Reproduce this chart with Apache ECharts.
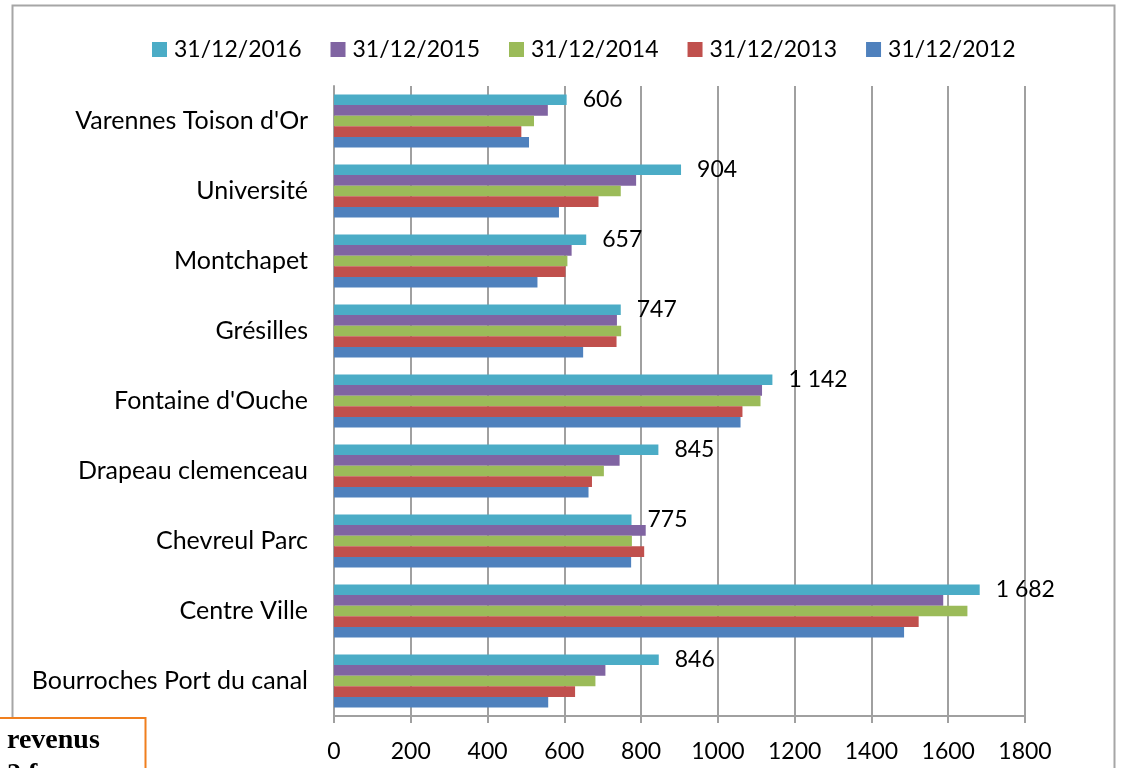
<!DOCTYPE html>
<html>
<head>
<meta charset="utf-8">
<script src="https://cdn.jsdelivr.net/npm/echarts@6/dist/echarts.min.js"></script>
<style>
  html, body { margin: 0; padding: 0; background: #fff; }
  #chart { width: 1121px; height: 768px; }
</style>
</head>
<body>
<div id="chart"></div>
<script>
// quartiers, du bas vers le haut
const quartiers = ['Bourroches Port du canal', 'Centre Ville', 'Chevreul Parc', 'Drapeau clemenceau',
  "Fontaine d'Ouche", 'Grésilles', 'Montchapet', 'Université', "Varennes Toison d'Or"];

const dates = ['31/12/2016', '31/12/2015', '31/12/2014', '31/12/2013', '31/12/2012'];

const v2016 = [846, 1682, 775, 845, 1142, 747, 657, 904, 606];
const v2015 = [707, 1587, 812, 744, 1115, 737, 619, 787, 557];
const v2014 = [681, 1650, 776, 703, 1111, 748, 608, 747, 521];
const v2013 = [628, 1523, 808, 672, 1064, 736, 603, 689, 488];
const v2012 = [558, 1485, 774, 663, 1059, 649, 530, 586, 508];

const xTicks = [0, 200, 400, 600, 800, 1000, 1200, 1400, 1600, 1800];

const colors = ['#4BACC6', '#8064A2', '#9BBB59', '#C0504D', '#4F81BD'];
const valeurs = [v2016, v2015, v2014, v2013, v2012];

const font = 'Lato, "Open Sans", sans-serif';

// espace comme séparateur de milliers (1 682)
function fmt(n) {
  return String(n).replace(/\B(?=(\d{3})+(?!\d))/g, ' ');
}

const chart = echarts.init(document.getElementById('chart'));
const option = {
  animation: false,
  backgroundColor: '#fff',
  legend: {
    data: dates,
    top: 38,
    left: 152,
    padding: 0,
    itemWidth: 15,
    itemHeight: 15,
    itemGap: 29,
    icon: 'rect',
    textStyle: { fontFamily: font, fontSize: 23, color: '#000', padding: [0, 0, 0, 2] }
  },
  grid: {
    left: 334,
    right: 96,
    top: 86,
    bottom: 52
  },
  xAxis: {
    type: 'value',
    min: xTicks[0],
    max: xTicks[xTicks.length - 1],
    interval: 200,
    axisLine: { show: true, lineStyle: { color: '#a0a0a0', width: 2 } },
    axisTick: { show: true, length: 7, lineStyle: { color: '#a0a0a0', width: 2 } },
    splitLine: { lineStyle: { color: '#a0a0a0', width: 2 } },
    axisLabel: { fontFamily: font, fontSize: 23, color: '#000', margin: 24, formatter: v => String(v) }
  },
  yAxis: {
    type: 'category',
    data: quartiers,
    axisLine: { lineStyle: { color: '#a0a0a0', width: 2 } },
    axisTick: { length: 7, lineStyle: { color: '#a0a0a0', width: 2 } },
    axisLabel: { fontFamily: font, fontSize: 25, color: '#000', margin: 26 }
  },
  series: dates.map((d, i) => ({
    name: d,
    type: 'bar',
    data: valeurs[i],
    barGap: '0%',
    barCategoryGap: '24%',
    itemStyle: { color: colors[i] },
    label: i === 0 ? {
      show: true,
      position: 'right',
      distance: 16,
      fontFamily: font,
      fontSize: 23,
      color: '#000',
      formatter: p => fmt(p.value)
    } : { show: false }
  })),
  graphic: [
    {
      type: 'rect',
      shape: { x: 12.5, y: 5.5, width: 1102, height: 800 },
      style: { fill: 'none', stroke: '#a6a6a6', lineWidth: 2 },
      z: -1
    },
    {
      type: 'rect',
      shape: { x: -5, y: 718, width: 150.5, height: 70 },
      style: { fill: '#fff', stroke: '#F07F1E', lineWidth: 2 },
      z: 10
    },
    {
      type: 'text',
      left: 7,
      top: 727,
      style: { text: 'revenus', fontFamily: '"Liberation Serif", serif', fontWeight: 'bold', fontSize: 28, fill: '#000' },
      z: 11
    },
    {
      type: 'text',
      left: 7,
      top: 761,
      style: { text: '2 f', fontFamily: '"Liberation Serif", serif', fontWeight: 'bold', fontSize: 28, fill: '#000' },
      z: 11
    }
  ]
};
chart.setOption(option);
</script>
</body>
</html>
